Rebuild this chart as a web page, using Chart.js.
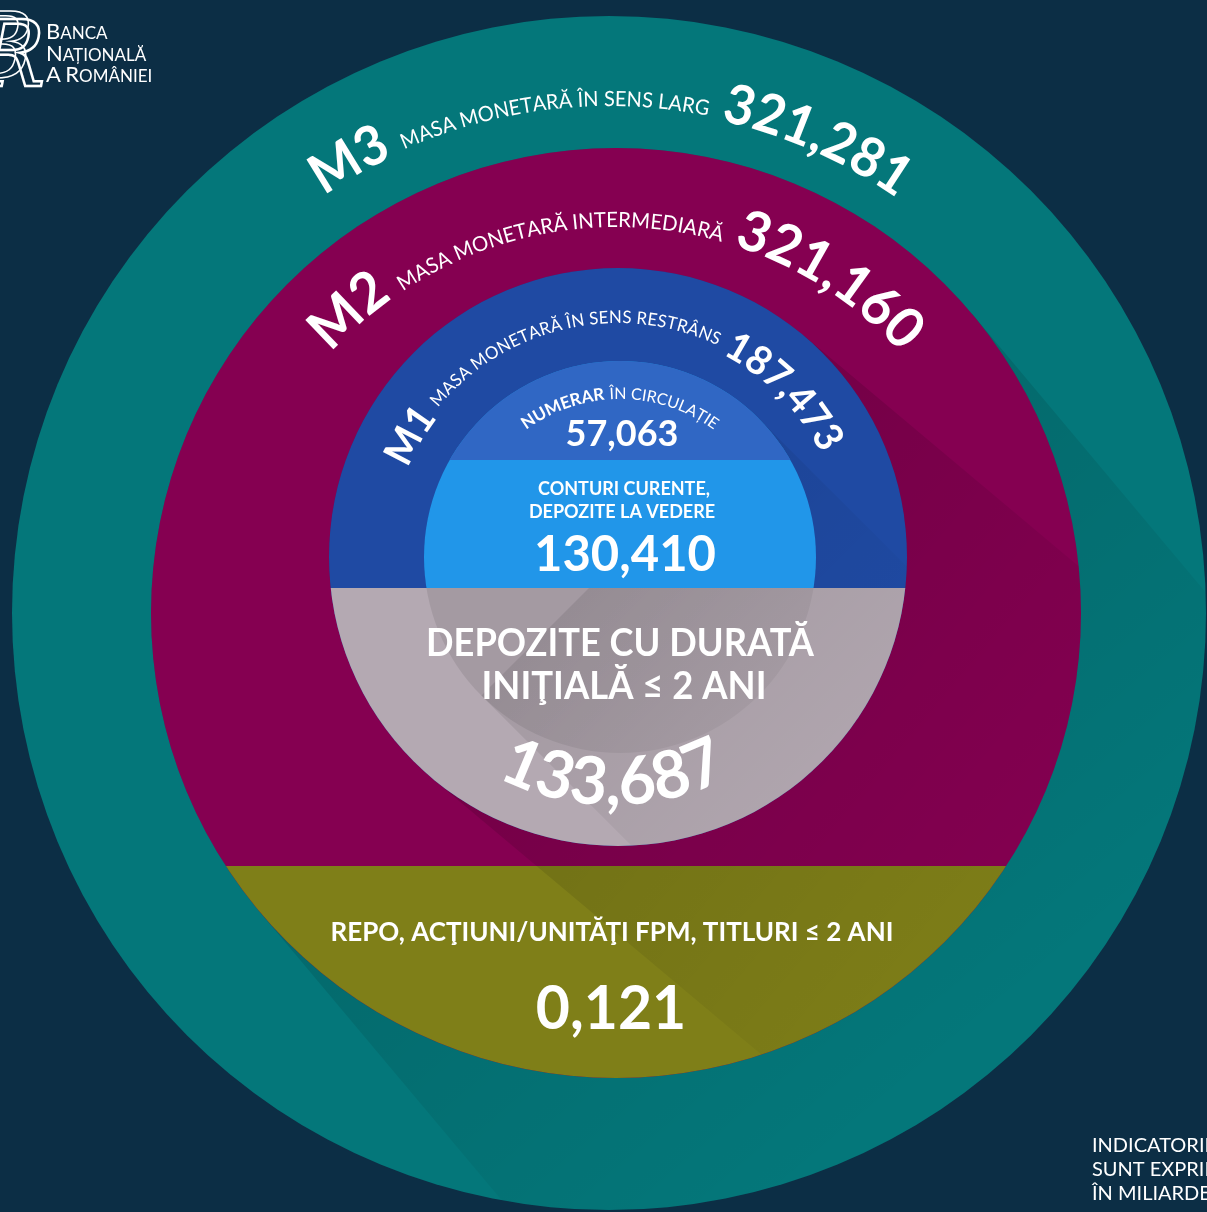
<!DOCTYPE html>
<html>
<head>
<meta charset="utf-8">
<title>Agregate monetare</title>
<script src="https://cdn.jsdelivr.net/npm/chart.js@4.4.1/dist/chart.umd.min.js"></script>
<style>
  html, body { margin: 0; padding: 0; background: #0c2e45; }
  #wrap { width: 1207px; height: 1212px; overflow: hidden; }
</style>
</head>
<body>
<div id="wrap"><canvas id="chart" width="1207" height="1212"></canvas></div>
<script>
// agregatele monetare (mld. lei)
const aggregateNames = ['M3', 'M2', 'M1'];
const aggregateTitles = [
  'MASA MONETARĂ ÎN SENS LARG',
  'MASA MONETARĂ INTERMEDIARĂ',
  'MASA MONETARĂ ÎN SENS RESTRÂNS'
];
const aggregateValues = [321.281, 321.160, 187.473];

// componentele
const cashLabel = ['NUMERAR', 'ÎN CIRCULAȚIE'];
const currentLabel = ['CONTURI CURENTE,', 'DEPOZITE LA VEDERE'];
const depositLabel = ['DEPOZITE CU DURATĂ', 'INIŢIALĂ ≤ 2 ANI'];
const repoLabel = ['REPO, ACŢIUNI/UNITĂŢI FPM, TITLURI ≤ 2 ANI'];
const componentValues = [57.063, 130.410, 133.687, 0.121];

const bankName = ['BANCA', 'NAȚIONALĂ', 'A ROMÂNIEI'];
const noteLines = ['INDICATORII', 'SUNT EXPRIMAȚI', 'ÎN MILIARDE LEI'];

// asezare (unitati de axa = pixeli)
const rings = {
  m3:    { x: 609, y: 613, r: 597, color: '#04777a' },
  m2:    { x: 616, y: 613, r: 465, color: '#850051' },
  m1:    { x: 618, y: 557, r: 289, color: '#1f4aa3' },
  inner: { x: 620, y: 557, r: 196, color: '#2196e9' }
};
const cuts = { repo: 866, deposits: 588, cash: 460 };
const segColors = { repo: '#7f7f18', deposits: '#b4a9b2', cash: '#3067c4' };
const BG = '#0c2e45';
const FONT = 'Lato, "Open Sans", sans-serif';

const fmt = v => v.toFixed(3).replace('.', ',');

function sx(chart, v) { return chart.scales.x.getPixelForValue(v); }
function sy(chart, v) { return chart.scales.y.getPixelForValue(v); }
function px(chart, ring) {
  return {
    x: sx(chart, ring.x),
    y: sy(chart, ring.y),
    r: Math.abs(sx(chart, ring.r) - sx(chart, 0))
  };
}

function circlePath(ctx, c) {
  ctx.beginPath();
  ctx.arc(c.x, c.y, c.r, 0, Math.PI * 2);
}

// umbra lunga spre dreapta-jos
function longShadow(ctx, c, deg, len, alpha) {
  const a = deg * Math.PI / 180;
  const dx = Math.cos(a), dy = Math.sin(a);
  const nx = -dy, ny = dx;
  const g = ctx.createLinearGradient(c.x, c.y, c.x + dx * len, c.y + dy * len);
  g.addColorStop(0, 'rgba(0,0,0,' + alpha + ')');
  g.addColorStop(1, 'rgba(0,0,0,0)');
  ctx.fillStyle = g;
  ctx.beginPath();
  ctx.moveTo(c.x + nx * c.r, c.y + ny * c.r);
  ctx.lineTo(c.x + nx * c.r + dx * len, c.y + ny * c.r + dy * len);
  ctx.lineTo(c.x - nx * c.r + dx * len, c.y - ny * c.r + dy * len);
  ctx.lineTo(c.x - nx * c.r, c.y - ny * c.r);
  ctx.closePath();
  ctx.fill();
  ctx.beginPath();
  ctx.arc(c.x, c.y, c.r, 0, Math.PI * 2);
  ctx.fill();
}

// text pe arc; bottom = text pe partea de jos a cercului
function arcText(ctx, runs, cx, cy, r, midDeg, bottom) {
  const items = [];
  let total = 0;
  runs.forEach(run => {
    if (run.gap) { items.push({ w: run.gap }); total += run.gap; return; }
    ctx.font = run.font;
    for (const ch of run.text) {
      const w = ctx.measureText(ch).width * (run.sq || 1) + (run.ls || 0);
      items.push({ ch, w, font: run.font, off: run.off || 0, sq: run.sq || 1 });
      total += w;
    }
  });
  const mid = midDeg * Math.PI / 180;
  const s = bottom ? -1 : 1;
  let acc = 0;
  ctx.textAlign = 'center';
  ctx.textBaseline = 'alphabetic';
  items.forEach(it => {
    if (it.ch) {
      const a = mid + s * (acc + it.w / 2 - total / 2) / r;
      const rr = r + (bottom ? -it.off : it.off);
      ctx.save();
      ctx.translate(cx + rr * Math.cos(a), cy + rr * Math.sin(a));
      ctx.rotate(a + s * Math.PI / 2);
      ctx.scale(it.sq, 1);
      ctx.font = it.font;
      ctx.fillText(it.ch, 0, 0);
      ctx.restore();
    }
    acc += it.w;
  });
}

function smallCaps(ctx, text, x, y, big, small) {
  ctx.textAlign = 'left';
  let cx = x;
  text.split(' ').forEach((word, wi) => {
    if (wi > 0) { ctx.font = small + 'px ' + FONT; cx += ctx.measureText(' ').width; }
    ctx.font = big + 'px ' + FONT;
    ctx.fillText(word[0], cx, y);
    cx += ctx.measureText(word[0]).width;
    ctx.font = small + 'px ' + FONT;
    ctx.fillText(word.slice(1), cx, y);
    cx += ctx.measureText(word.slice(1)).width;
  });
}

const arcLayout = [
  { ring: 'm3', r: 505, mid: -89.8, big: 55, small: 21, off: 2, gap: 13, sq: 0.95 },
  { ring: 'm2', r: 386, mid: -90, big: 56, small: 21, off: 0, gap: 12, sq: 0.97 },
  { ring: 'm1', r: 228, mid: -92, big: 40, small: 17.5, off: 6, gap: 8, sq: 0.96 }
];

const infographic = {
  id: 'infographic',
  beforeDraw(chart) {
    const ctx = chart.ctx;
    ctx.save();
    ctx.fillStyle = BG;
    ctx.fillRect(0, 0, chart.width, chart.height);
    ctx.restore();
  },
  afterDatasetDraw(chart, args) {
    const ctx = chart.ctx;
    const id = chart.data.datasets[args.index].id;
    const W = chart.width, H = chart.height;
    ctx.save();
    if (id === 'm3') {
      // umbra cercului M2 pe inelul M3
      circlePath(ctx, px(chart, rings.m3)); ctx.clip();
      longShadow(ctx, px(chart, rings.m2), 50, 560, 0.12);
    } else if (id === 'm2') {
      const c = px(chart, rings.m2);
      const yc = sy(chart, cuts.repo);
      circlePath(ctx, c); ctx.clip();
      ctx.fillStyle = segColors.repo;
      ctx.fillRect(0, yc, W, H - yc);
      // umbra cercului M1
      longShadow(ctx, px(chart, rings.m1), 40, 600, 0.13);
    } else if (id === 'inner') {
      const m1 = px(chart, rings.m1);
      const inn = px(chart, rings.inner);
      const yCash = sy(chart, cuts.cash);
      const yDep = sy(chart, cuts.deposits);
      // numerar
      ctx.save();
      circlePath(ctx, inn); ctx.clip();
      ctx.fillStyle = segColors.cash;
      ctx.fillRect(0, 0, W, yCash);
      ctx.restore();
      // depozite
      ctx.save();
      circlePath(ctx, m1); ctx.clip();
      ctx.beginPath(); ctx.rect(0, yDep, W, H - yDep); ctx.clip();
      ctx.fillStyle = segColors.deposits;
      ctx.fillRect(0, yDep, W, H - yDep);
      longShadow(ctx, inn, 45, 420, 0.09);
      ctx.restore();
      // umbra pe inelul M1
      ctx.save();
      ctx.beginPath();
      ctx.arc(m1.x, m1.y, m1.r, 0, Math.PI * 2);
      ctx.arc(inn.x, inn.y, inn.r, 0, Math.PI * 2);
      ctx.clip('evenodd');
      ctx.beginPath(); ctx.rect(0, 0, W, yDep); ctx.clip();
      longShadow(ctx, inn, 45, 300, 0.07);
      ctx.restore();
    }
    ctx.restore();
  },
  afterDatasetsDraw(chart) {
    const ctx = chart.ctx;
    ctx.save();
    ctx.fillStyle = '#ffffff';

    // etichete pe arc M3, M2, M1
    arcLayout.forEach((L, i) => {
      const c = px(chart, rings[L.ring]);
      arcText(ctx, [
        { text: aggregateNames[i], font: 'bold ' + L.big + 'px ' + FONT, sq: L.sq },
        { gap: L.gap },
        { text: aggregateTitles[i], font: L.small + 'px ' + FONT, off: L.off, sq: L.sq },
        { gap: L.gap },
        { text: fmt(aggregateValues[i]), font: 'bold ' + L.big + 'px ' + FONT, sq: L.sq }
      ], c.x, c.y, L.r, L.mid, false);
    });

    const inn = px(chart, rings.inner);
    arcText(ctx, [
      { text: cashLabel[0], font: 'bold 17px ' + FONT },
      { gap: 5 },
      { text: cashLabel[1], font: '16px ' + FONT }
    ], inn.x, inn.y, 158, -90, false);

    ctx.textAlign = 'center';
    ctx.textBaseline = 'alphabetic';
    ctx.font = 'bold 36px ' + FONT;
    ctx.fillText(fmt(componentValues[0]), sx(chart, 622), sy(chart, 446));

    ctx.font = 'bold 18px ' + FONT;
    ctx.fillText(currentLabel[0], sx(chart, 624), sy(chart, 495), 190);
    ctx.fillText(currentLabel[1], sx(chart, 622), sy(chart, 518), 202);
    ctx.font = 'bold 49px ' + FONT;
    ctx.fillText(fmt(componentValues[1]), sx(chart, 625), sy(chart, 571));

    ctx.font = 'bold 39px ' + FONT;
    ctx.fillText(depositLabel[0], sx(chart, 620), sy(chart, 656), 388);
    ctx.fillText(depositLabel[1], sx(chart, 624), sy(chart, 699), 285);

    const m1 = px(chart, rings.m1);
    arcText(ctx, [
      { text: fmt(componentValues[2]), font: 'bold 66px ' + FONT, sq: 0.98 }
    ], m1.x - 5, m1.y - 8, 256, 90, true);

    ctx.font = 'bold 26px ' + FONT;
    ctx.fillText(repoLabel[0], sx(chart, 612), sy(chart, 941), 568);
    ctx.save();
    ctx.translate(sx(chart, 611), sy(chart, 1029));
    ctx.scale(0.95, 1);
    ctx.font = 'bold 62px ' + FONT;
    ctx.fillText(fmt(componentValues[3]), 0, 0);
    ctx.restore();

    // nota
    ctx.textAlign = 'left';
    ctx.font = '20px ' + FONT;
    noteLines.forEach((t, i) => ctx.fillText(t, sx(chart, 1092), sy(chart, 1152 + i * 24)));

    // sigla BNR
    ctx.fillStyle = '#ffffff';
    smallCaps(ctx, bankName[0], 46, 39, 22, 17);
    smallCaps(ctx, bankName[1], 46, 61, 22, 17);
    smallCaps(ctx, bankName[2], 46, 82, 22, 17);
    ctx.strokeStyle = '#ffffff';
    ctx.lineWidth = 2.5;
    ctx.font = 'italic 92px "DejaVu Serif", serif';
    ctx.strokeText('R', -24, 86);
    ctx.lineWidth = 1.5;
    ctx.strokeText('B', -34, 78);
    ctx.restore();
  }
};

const ringOrder = ['inner', 'm1', 'm2', 'm3'];   // primul se deseneaza deasupra

new Chart(document.getElementById('chart'), {
  type: 'scatter',
  data: {
    datasets: ringOrder.map(key => ({
      id: key,
      data: [{ x: rings[key].x, y: rings[key].y }],
      backgroundColor: rings[key].color,
      borderWidth: 0,
      clip: false,
      pointRadius: ctx => {
        const c = ctx.chart;
        if (!c.scales || !c.scales.x) return 0;
        return Math.abs(c.scales.x.getPixelForValue(rings[key].r) - c.scales.x.getPixelForValue(0));
      },
      pointHoverRadius: ctx => {
        const c = ctx.chart;
        if (!c.scales || !c.scales.x) return 0;
        return Math.abs(c.scales.x.getPixelForValue(rings[key].r) - c.scales.x.getPixelForValue(0));
      }
    }))
  },
  options: {
    responsive: false,
    animation: false,
    events: [],
    devicePixelRatio: 1,
    layout: { padding: 0 },
    plugins: { legend: { display: false }, tooltip: { enabled: false } },
    scales: {
      x: { type: 'linear', min: 0, max: 1207, display: false },
      y: { type: 'linear', min: 0, max: 1212, reverse: true, display: false }
    }
  },
  plugins: [infographic]
});
</script>
</body>
</html>
